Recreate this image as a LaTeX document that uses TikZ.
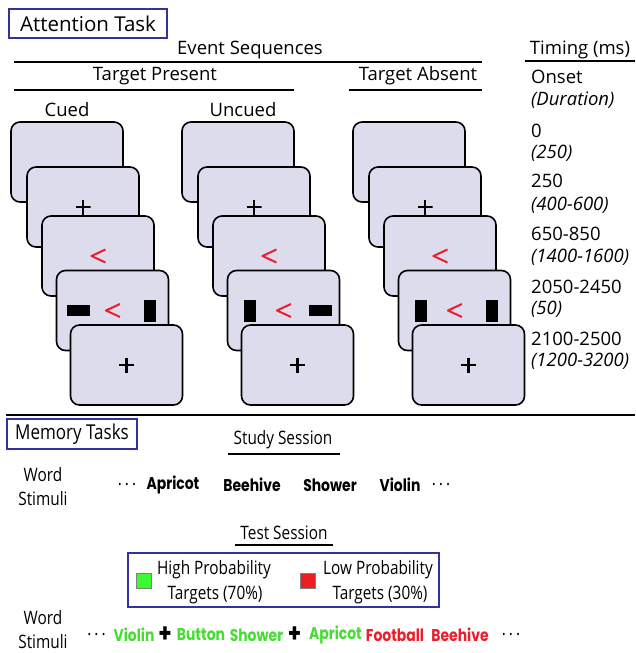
\documentclass[tikz,border=0pt]{standalone}
\usepackage{fontspec}
\setmainfont{Open Sans}
\newfontfamily\narrowfont{Open Sans}[FakeStretch=0.83]
\newfontfamily\wordfont{Poppins}[FakeStretch=0.82]
\definecolor{screenfill}{RGB}{220,220,236}
\definecolor{boxblue}{RGB}{50,50,160}
\definecolor{cuered}{RGB}{235,30,45}
\definecolor{higreen}{RGB}{70,220,50}
\definecolor{keygreen}{RGB}{60,250,50}
\definecolor{keyred}{RGB}{235,30,35}
\begin{document}
\begin{tikzpicture}[x=1pt, y=-1pt,
  screen/.style={draw=black, line width=1.6pt, rounded corners=9pt, fill=screenfill, minimum width=112pt, minimum height=80pt, inner sep=0pt},
  lbl/.style={font=\fontsize{18.5}{22}\selectfont, inner sep=0pt},
  low/.style={font=\narrowfont\fontsize{18.5}{22}\selectfont, inner sep=0pt},
  time/.style={lbl, anchor=base west},
  dur/.style={time, font=\fontsize{18.5}{22}\selectfont\itshape},
  rule/.style={line width=2.4pt},
  taskbox/.style={draw=boxblue, line width=1.2pt, inner sep=0pt},
  fix/.style={minimum size=15pt, inner sep=0pt, path picture={
    \draw[line width=2.2pt] (path picture bounding box.north) -- (path picture bounding box.south)
      (path picture bounding box.west) -- (path picture bounding box.east);}},
  cue/.style={minimum width=15pt, minimum height=15pt, inner sep=0pt, path picture={
    \draw[cuered, line width=2pt] ([yshift=-1pt]path picture bounding box.north east) -- ([xshift=1pt]path picture bounding box.west)
      -- ([yshift=1pt]path picture bounding box.south east);}},
  hbar/.style={fill=black, minimum width=23pt, minimum height=11pt, inner sep=0pt},
  vbar/.style={fill=black, minimum width=12pt, minimum height=22pt, inner sep=0pt},
  word/.style={font=\wordfont\bfseries\fontsize{17}{20}\selectfont, inner sep=0pt},
  bplus/.style={font=\wordfont\bfseries\fontsize{26}{26}\selectfont, inner sep=0pt},
  hi/.style={word, text=higreen},
  lo/.style={word, text=cuered},
  key/.style={minimum size=15pt, inner sep=0pt, draw=gray, line width=0.8pt}]
\useasboundingbox (0,0) rectangle (635,653);
% attention task
\node[taskbox, font=\fontsize{20.5}{24}\selectfont, minimum width=158pt, minimum height=29pt] (att) at (88,23.5) {Attention Task};
\node[lbl] (ev) at (250,50) {Event Sequences};
\node[lbl] (tp) at (155,76) {Target Present};
\node[lbl] (ta) at (418,76) {Target Absent};
\node[lbl] (tim) at (580,50) {Timing (ms)};
\node[lbl] (cued) at (67,110) {Cued};
\node[lbl] (uncued) at (243,110) {Uncued};
\coordinate (evL) at (14,62); \coordinate (evR) at (482,62);
\coordinate (tpL) at (14,90); \coordinate (tpR) at (294,90);
\coordinate (taL) at (349,90); \coordinate (taR) at (482,90);
\coordinate (timL) at (525,61); \coordinate (timR) at (635,61);
\draw[rule] (evL) -- (evR);
\draw[rule] (tpL) -- (tpR);
\draw[rule] (taL) -- (taR);
\draw[rule] (timL) -- (timR);
% timing
\node[time] (t0) at (531,83) {Onset};
\node[dur] (d0) at (531,105) {(Duration)};
\node[time] (t1) at (531,137) {0};
\node[dur] (d1) at (531,158) {(250)};
\node[time] (t2) at (531,187) {250};
\node[dur] (d2) at (531,210) {(400-600)};
\node[time] (t3) at (531,240) {650-850};
\node[dur] (d3) at (531,262) {(1400-1600)};
\node[time] (t4) at (531,293) {2050-2450};
\node[dur] (d4) at (531,314) {(50)};
\node[time] (t5) at (531,345) {2100-2500};
\node[dur] (d5) at (531,366) {(1200-3200)};
% screens, cued
\node[screen] (c1) at (67,162) {};
\node[screen] (c2) at (83,207) {};
\node[screen] (c3) at (98,256) {};
\node[screen] (c4) at (112.5,310.5) {};
\node[screen] (c5) at (126.5,365) {};
% screens, uncued
\node[screen] (u1) at (238,162) {};
\node[screen] (u2) at (254,207) {};
\node[screen] (u3) at (269,256) {};
\node[screen] (u4) at (283.5,310.5) {};
\node[screen] (u5) at (297.5,365) {};
% screens, absent
\node[screen] (a1) at (409,162) {};
\node[screen] (a2) at (425,207) {};
\node[screen] (a3) at (440,256) {};
\node[screen] (a4) at (454.5,310.5) {};
\node[screen] (a5) at (468.5,365) {};
% screen contents
\node[fix] (c2p) at (c2) {};
\node[fix] (u2p) at (u2) {};
\node[fix] (a2p) at (a2) {};
\node[cue] (c3c) at (c3) {};
\node[cue] (u3c) at (u3) {};
\node[cue] (a3c) at (a3) {};
\node[cue] (c4c) at (c4) {};
\node[cue] (u4c) at (u4) {};
\node[cue] (a4c) at (a4) {};
\node[hbar, xshift=-34pt] (c4l) at (c4) {};
\node[vbar, xshift=37pt] (c4r) at (c4) {};
\node[vbar, xshift=-34pt] (u4l) at (u4) {};
\node[hbar, xshift=37pt] (u4r) at (u4) {};
\node[vbar, xshift=-34pt] (a4l) at (a4) {};
\node[vbar, xshift=37pt] (a4r) at (a4) {};
\node[fix] (c5p) at (c5) {};
\node[fix] (u5p) at (u5) {};
\node[fix] (a5p) at (a5) {};
% memory tasks
\coordinate (midL) at (6,415); \coordinate (midR) at (635,415);
\draw[rule] (midL) -- (midR);
\node[taskbox, font=\narrowfont\fontsize{20.5}{24}\selectfont, minimum width=130pt, minimum height=30pt] (mem) at (72,434) {Memory Tasks};
\node[low] (study) at (283,440) {Study Session};
\coordinate (stL) at (228,454); \coordinate (stR) at (340,454);
\draw[rule] (stL) -- (stR);
\node[low] (w1) at (43,475) {Word};
\node[low] (s1) at (43,499) {Stimuli};
\node[low] (sd1) at (127,485) {.\hspace{3pt}.\hspace{3pt}.};
\node[word] (sapr) at (173,485) {Apricot};
\node[word] (sbee) at (252,485) {Beehive};
\node[word] (ssho) at (330,485) {Shower};
\node[word] (svio) at (400,485) {Violin};
\node[low] (sd2) at (441,485) {.\hspace{3pt}.\hspace{3pt}.};
\node[low] (test) at (284,533) {Test Session};
\coordinate (tsL) at (235,545); \coordinate (tsR) at (333,545);
\draw[rule] (tsL) -- (tsR);
\node[taskbox, minimum width=311pt, minimum height=54pt] (legend) at (283.5,580) {};
\node[key, fill=keygreen] (kg) at (143.5,580.5) {};
\node[low] (hp1) at (214,570) {High Probability};
\node[low] (hp2) at (215,595) {Targets (70\%)};
\node[key, fill=keyred] (kr) at (307.5,580.5) {};
\node[low] (lp1) at (378,570) {Low Probability};
\node[low] (lp2) at (380,595) {Targets (30\%)};
\node[low] (w2) at (43,618) {Word};
\node[low] (s2) at (43,642) {Stimuli};
\node[low] (td1) at (96.5,635) {.\hspace{3pt}.\hspace{3pt}.};
\node[hi] (tvio) at (134,635) {Violin};
\node[bplus] (tp1) at (165,635) {+};
\node[hi] (tbut) at (201,635) {Button};
\node[hi] (tsho) at (256.5,635) {Shower};
\node[bplus] (tp2) at (294.5,635) {+};
\node[hi] (tapr) at (335.5,635) {Apricot};
\node[lo] (tfoo) at (395,635) {Football};
\node[lo] (tbee) at (460,635) {Beehive};
\node[low] (td2) at (511,635) {.\hspace{3pt}.\hspace{3pt}.};
\end{tikzpicture}
\end{document}
